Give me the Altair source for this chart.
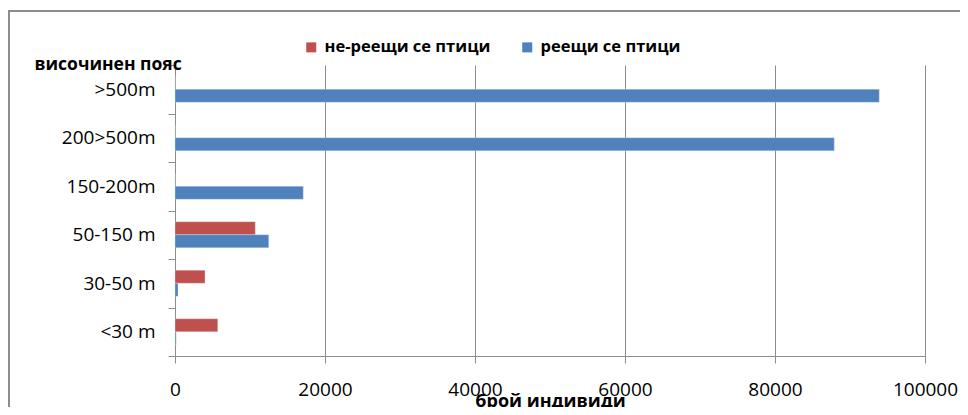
import altair as alt
import pandas as pd

categories = [">500m", "200>500m", "150-200m", "50-150 m", "30-50 m", "<30 m"]
series_names = ["не-реещи се птици", "реещи се птици"]
non_soaring = [0, 0, 0, 10700, 4000, 5700]
soaring = [93900, 87900, 17100, 12500, 400, 150]
x_ticks = [0, 20000, 40000, 60000, 80000, 100000]
colors = ["#C0504D", "#4F81BD"]

rows = []
for c, a, b in zip(categories, non_soaring, soaring):
    rows.append({"cat": c, "series": series_names[0], "value": a})
    rows.append({"cat": c, "series": series_names[1], "value": b})
df = pd.DataFrame(rows)

FONT = "Open Sans"
GRAY = "#8C8C8C"

bars = alt.Chart(df).mark_bar(stroke="#DCE6F2", strokeWidth=0.6, strokeOpacity=0.6).encode(
    y=alt.Y("cat:N", sort=categories,
            scale=alt.Scale(paddingInner=0, paddingOuter=0),
            axis=alt.Axis(title="височинен пояс", titleAngle=0, titleAlign="left",
                          titleBaseline="alphabetic", titleX=-141, titleY=4,
                          titleFont=FONT, titleFontSize=17.5, titleFontWeight="bold",
                          titleColor="#000000",
                          labelFont=FONT, labelFontSize=19, labelColor="#000000",
                          labelPadding=13, tickSize=7, tickBand="extent",
                          tickColor=GRAY, domainColor=GRAY, grid=False)),
    x=alt.X("value:Q",
            scale=alt.Scale(domain=[0, 100000], nice=False),
            axis=alt.Axis(title="брой индивиди", values=x_ticks, format="d",
                          titleFont=FONT, titleFontSize=18, titleFontWeight="bold",
                          titleColor="#000000", titleBaseline="alphabetic", titleY=50,
                          labelFont=FONT, labelFontSize=19, labelColor="#000000",
                          labelPadding=17, tickSize=7, tickColor=GRAY,
                          domainColor=GRAY, grid=True, gridColor=GRAY,
                          labelFlush=False)),
    yOffset=alt.YOffset("series:N", sort=series_names,
                        scale=alt.Scale(paddingOuter=0.865, paddingInner=0)),
    color=alt.Color("series:N", sort=series_names,
                    scale=alt.Scale(domain=series_names, range=colors),
                    legend=alt.Legend(title=None, orient="none", legendX=128, legendY=-26,
                                      direction="horizontal", symbolType="square",
                                      symbolSize=100, symbolStrokeWidth=0,
                                      labelFont=FONT, labelFontSize=16.5,
                                      labelFontWeight="bold", labelColor="#000000",
                                      labelOffset=5, columnPadding=28, labelLimit=300)),
)

frame_left = alt.Chart(df).mark_rule(color=GRAY, strokeWidth=2).encode(
    x=alt.value(-166), y=alt.value(-54), y2=alt.value(345))
frame_top = alt.Chart(df).mark_rule(color=GRAY, strokeWidth=2).encode(
    x=alt.value(-167), x2=alt.value(800), y=alt.value(-54))

chart = alt.layer(bars, frame_left, frame_top).properties(
    width=750, height=291,
    autosize=alt.AutoSizeParams(type="none"),
    padding={"left": 167, "top": 57, "right": 35, "bottom": 51},
).configure_view(stroke=None)

chart.save("out.html", embed_options={"renderer": "svg", "actions": False})
